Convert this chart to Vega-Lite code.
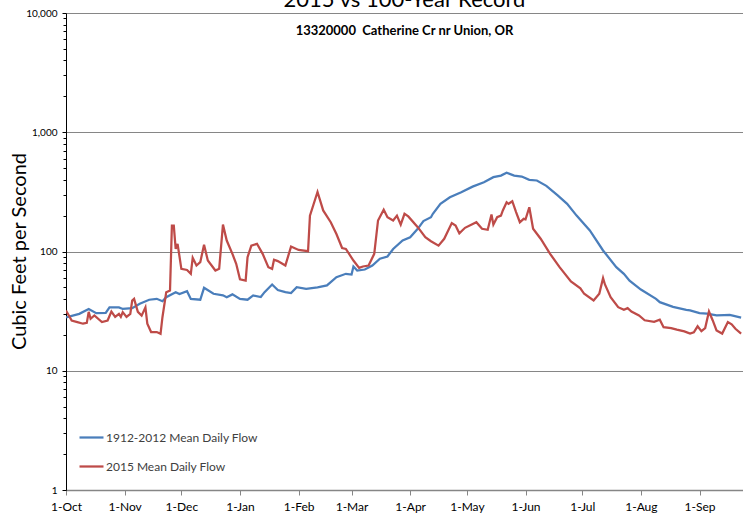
{
  "$schema": "https://vega.github.io/schema/vega-lite/v6.json",
  "width": 677,
  "height": 477,
  "autosize": {"type": "none"},
  "padding": {"left": 66, "top": 13, "right": 0, "bottom": 24},
  "background": "white",
  "title": {
    "text": "2015 vs 100-Year Record",
    "subtitle": "13320000\u00a0 Catherine Cr nr Union, OR",
    "anchor": "middle",
    "frame": "group",
    "font": "Lato",
    "fontSize": 22,
    "fontWeight": "normal",
    "color": "#000000",
    "subtitleFont": "Lato",
    "subtitleFontSize": 13,
    "subtitleFontWeight": "bold",
    "subtitleColor": "#000000",
    "subtitlePadding": 13,
    "offset": -31
  },
  "config": {"view": {"stroke": null}, "font": "Lato"},
  "data": {
    "values": [
      {"d": "2014-10-01", "s": "1912-2012 Mean Daily Flow", "v": 28},
      {"d": "2014-10-08", "s": "1912-2012 Mean Daily Flow", "v": 30},
      {"d": "2014-10-13", "s": "1912-2012 Mean Daily Flow", "v": 33},
      {"d": "2014-10-17", "s": "1912-2012 Mean Daily Flow", "v": 30.4},
      {"d": "2014-10-22", "s": "1912-2012 Mean Daily Flow", "v": 30.5},
      {"d": "2014-10-24", "s": "1912-2012 Mean Daily Flow", "v": 34},
      {"d": "2014-10-29", "s": "1912-2012 Mean Daily Flow", "v": 34},
      {"d": "2014-10-31", "s": "1912-2012 Mean Daily Flow", "v": 33},
      {"d": "2014-11-05", "s": "1912-2012 Mean Daily Flow", "v": 33.5},
      {"d": "2014-11-09", "s": "1912-2012 Mean Daily Flow", "v": 36.5},
      {"d": "2014-11-14", "s": "1912-2012 Mean Daily Flow", "v": 39.4},
      {"d": "2014-11-18", "s": "1912-2012 Mean Daily Flow", "v": 40.1},
      {"d": "2014-11-21", "s": "1912-2012 Mean Daily Flow", "v": 38.3},
      {"d": "2014-11-23", "s": "1912-2012 Mean Daily Flow", "v": 41.4},
      {"d": "2014-11-28", "s": "1912-2012 Mean Daily Flow", "v": 45.6},
      {"d": "2014-11-30", "s": "1912-2012 Mean Daily Flow", "v": 44},
      {"d": "2014-12-04", "s": "1912-2012 Mean Daily Flow", "v": 46.5},
      {"d": "2014-12-06", "s": "1912-2012 Mean Daily Flow", "v": 40},
      {"d": "2014-12-11", "s": "1912-2012 Mean Daily Flow", "v": 39.4},
      {"d": "2014-12-13", "s": "1912-2012 Mean Daily Flow", "v": 49.6},
      {"d": "2014-12-18", "s": "1912-2012 Mean Daily Flow", "v": 44.2},
      {"d": "2014-12-23", "s": "1912-2012 Mean Daily Flow", "v": 42.9},
      {"d": "2014-12-25", "s": "1912-2012 Mean Daily Flow", "v": 41.4},
      {"d": "2014-12-28", "s": "1912-2012 Mean Daily Flow", "v": 43.7},
      {"d": "2015-01-01", "s": "1912-2012 Mean Daily Flow", "v": 40},
      {"d": "2015-01-05", "s": "1912-2012 Mean Daily Flow", "v": 39.4},
      {"d": "2015-01-08", "s": "1912-2012 Mean Daily Flow", "v": 42.8},
      {"d": "2015-01-12", "s": "1912-2012 Mean Daily Flow", "v": 41.5},
      {"d": "2015-01-14", "s": "1912-2012 Mean Daily Flow", "v": 45.6},
      {"d": "2015-01-18", "s": "1912-2012 Mean Daily Flow", "v": 52.9},
      {"d": "2015-01-21", "s": "1912-2012 Mean Daily Flow", "v": 47.5},
      {"d": "2015-01-25", "s": "1912-2012 Mean Daily Flow", "v": 45.6},
      {"d": "2015-01-28", "s": "1912-2012 Mean Daily Flow", "v": 44.8},
      {"d": "2015-01-31", "s": "1912-2012 Mean Daily Flow", "v": 50.2},
      {"d": "2015-02-05", "s": "1912-2012 Mean Daily Flow", "v": 48.7},
      {"d": "2015-02-11", "s": "1912-2012 Mean Daily Flow", "v": 50},
      {"d": "2015-02-16", "s": "1912-2012 Mean Daily Flow", "v": 51.9},
      {"d": "2015-02-21", "s": "1912-2012 Mean Daily Flow", "v": 60.9},
      {"d": "2015-02-26", "s": "1912-2012 Mean Daily Flow", "v": 65},
      {"d": "2015-03-01", "s": "1912-2012 Mean Daily Flow", "v": 64},
      {"d": "2015-03-02", "s": "1912-2012 Mean Daily Flow", "v": 74.9},
      {"d": "2015-03-04", "s": "1912-2012 Mean Daily Flow", "v": 69.3},
      {"d": "2015-03-08", "s": "1912-2012 Mean Daily Flow", "v": 70.6},
      {"d": "2015-03-12", "s": "1912-2012 Mean Daily Flow", "v": 76.2},
      {"d": "2015-03-16", "s": "1912-2012 Mean Daily Flow", "v": 86.9},
      {"d": "2015-03-20", "s": "1912-2012 Mean Daily Flow", "v": 90.8},
      {"d": "2015-03-23", "s": "1912-2012 Mean Daily Flow", "v": 105},
      {"d": "2015-03-28", "s": "1912-2012 Mean Daily Flow", "v": 123.6},
      {"d": "2015-04-01", "s": "1912-2012 Mean Daily Flow", "v": 131.8},
      {"d": "2015-04-05", "s": "1912-2012 Mean Daily Flow", "v": 155},
      {"d": "2015-04-08", "s": "1912-2012 Mean Daily Flow", "v": 180},
      {"d": "2015-04-12", "s": "1912-2012 Mean Daily Flow", "v": 194},
      {"d": "2015-04-13", "s": "1912-2012 Mean Daily Flow", "v": 207},
      {"d": "2015-04-17", "s": "1912-2012 Mean Daily Flow", "v": 251},
      {"d": "2015-04-22", "s": "1912-2012 Mean Daily Flow", "v": 285},
      {"d": "2015-04-28", "s": "1912-2012 Mean Daily Flow", "v": 314},
      {"d": "2015-05-04", "s": "1912-2012 Mean Daily Flow", "v": 350},
      {"d": "2015-05-10", "s": "1912-2012 Mean Daily Flow", "v": 381},
      {"d": "2015-05-15", "s": "1912-2012 Mean Daily Flow", "v": 420},
      {"d": "2015-05-19", "s": "1912-2012 Mean Daily Flow", "v": 433},
      {"d": "2015-05-22", "s": "1912-2012 Mean Daily Flow", "v": 457},
      {"d": "2015-05-26", "s": "1912-2012 Mean Daily Flow", "v": 433},
      {"d": "2015-05-30", "s": "1912-2012 Mean Daily Flow", "v": 425},
      {"d": "2015-06-03", "s": "1912-2012 Mean Daily Flow", "v": 399},
      {"d": "2015-06-07", "s": "1912-2012 Mean Daily Flow", "v": 394},
      {"d": "2015-06-12", "s": "1912-2012 Mean Daily Flow", "v": 355},
      {"d": "2015-06-18", "s": "1912-2012 Mean Daily Flow", "v": 295},
      {"d": "2015-06-23", "s": "1912-2012 Mean Daily Flow", "v": 251},
      {"d": "2015-06-28", "s": "1912-2012 Mean Daily Flow", "v": 200},
      {"d": "2015-07-05", "s": "1912-2012 Mean Daily Flow", "v": 150},
      {"d": "2015-07-12", "s": "1912-2012 Mean Daily Flow", "v": 102},
      {"d": "2015-07-19", "s": "1912-2012 Mean Daily Flow", "v": 73.9},
      {"d": "2015-07-23", "s": "1912-2012 Mean Daily Flow", "v": 65},
      {"d": "2015-07-26", "s": "1912-2012 Mean Daily Flow", "v": 57},
      {"d": "2015-08-01", "s": "1912-2012 Mean Daily Flow", "v": 48},
      {"d": "2015-08-09", "s": "1912-2012 Mean Daily Flow", "v": 40.1},
      {"d": "2015-08-11", "s": "1912-2012 Mean Daily Flow", "v": 37.6},
      {"d": "2015-08-18", "s": "1912-2012 Mean Daily Flow", "v": 34.3},
      {"d": "2015-08-25", "s": "1912-2012 Mean Daily Flow", "v": 32.4},
      {"d": "2015-08-27", "s": "1912-2012 Mean Daily Flow", "v": 32.1},
      {"d": "2015-09-01", "s": "1912-2012 Mean Daily Flow", "v": 30.4},
      {"d": "2015-09-05", "s": "1912-2012 Mean Daily Flow", "v": 30.1},
      {"d": "2015-09-10", "s": "1912-2012 Mean Daily Flow", "v": 29.1},
      {"d": "2015-09-14", "s": "1912-2012 Mean Daily Flow", "v": 29.3},
      {"d": "2015-09-17", "s": "1912-2012 Mean Daily Flow", "v": 29.4},
      {"d": "2015-09-23", "s": "1912-2012 Mean Daily Flow", "v": 27.9},
      {"d": "2014-10-01", "s": "2015 Mean Daily Flow", "v": 32},
      {"d": "2014-10-04", "s": "2015 Mean Daily Flow", "v": 26.4},
      {"d": "2014-10-07", "s": "2015 Mean Daily Flow", "v": 25.6},
      {"d": "2014-10-10", "s": "2015 Mean Daily Flow", "v": 24.8},
      {"d": "2014-10-12", "s": "2015 Mean Daily Flow", "v": 25.2},
      {"d": "2014-10-13", "s": "2015 Mean Daily Flow", "v": 31.2},
      {"d": "2014-10-14", "s": "2015 Mean Daily Flow", "v": 27.3},
      {"d": "2014-10-16", "s": "2015 Mean Daily Flow", "v": 29.1},
      {"d": "2014-10-20", "s": "2015 Mean Daily Flow", "v": 25.6},
      {"d": "2014-10-23", "s": "2015 Mean Daily Flow", "v": 26.4},
      {"d": "2014-10-25", "s": "2015 Mean Daily Flow", "v": 31.4},
      {"d": "2014-10-27", "s": "2015 Mean Daily Flow", "v": 28.3},
      {"d": "2014-10-29", "s": "2015 Mean Daily Flow", "v": 30},
      {"d": "2014-10-30", "s": "2015 Mean Daily Flow", "v": 28.3},
      {"d": "2014-10-31", "s": "2015 Mean Daily Flow", "v": 31},
      {"d": "2014-11-02", "s": "2015 Mean Daily Flow", "v": 28.3},
      {"d": "2014-11-04", "s": "2015 Mean Daily Flow", "v": 30},
      {"d": "2014-11-05", "s": "2015 Mean Daily Flow", "v": 38.8},
      {"d": "2014-11-06", "s": "2015 Mean Daily Flow", "v": 40.1},
      {"d": "2014-11-08", "s": "2015 Mean Daily Flow", "v": 31.2},
      {"d": "2014-11-10", "s": "2015 Mean Daily Flow", "v": 29},
      {"d": "2014-11-12", "s": "2015 Mean Daily Flow", "v": 34},
      {"d": "2014-11-13", "s": "2015 Mean Daily Flow", "v": 24.8},
      {"d": "2014-11-15", "s": "2015 Mean Daily Flow", "v": 21.1},
      {"d": "2014-11-18", "s": "2015 Mean Daily Flow", "v": 21.1},
      {"d": "2014-11-20", "s": "2015 Mean Daily Flow", "v": 20.4},
      {"d": "2014-11-21", "s": "2015 Mean Daily Flow", "v": 28.1},
      {"d": "2014-11-23", "s": "2015 Mean Daily Flow", "v": 45.6},
      {"d": "2014-11-25", "s": "2015 Mean Daily Flow", "v": 47.1},
      {"d": "2014-11-26", "s": "2015 Mean Daily Flow", "v": 165},
      {"d": "2014-11-27", "s": "2015 Mean Daily Flow", "v": 165},
      {"d": "2014-11-28", "s": "2015 Mean Daily Flow", "v": 105},
      {"d": "2014-11-29", "s": "2015 Mean Daily Flow", "v": 116},
      {"d": "2014-12-01", "s": "2015 Mean Daily Flow", "v": 71.6},
      {"d": "2014-12-04", "s": "2015 Mean Daily Flow", "v": 70},
      {"d": "2014-12-06", "s": "2015 Mean Daily Flow", "v": 65},
      {"d": "2014-12-07", "s": "2015 Mean Daily Flow", "v": 88.5},
      {"d": "2014-12-09", "s": "2015 Mean Daily Flow", "v": 76.3},
      {"d": "2014-12-11", "s": "2015 Mean Daily Flow", "v": 81.4},
      {"d": "2014-12-13", "s": "2015 Mean Daily Flow", "v": 113.8},
      {"d": "2014-12-15", "s": "2015 Mean Daily Flow", "v": 84},
      {"d": "2014-12-19", "s": "2015 Mean Daily Flow", "v": 69.3},
      {"d": "2014-12-21", "s": "2015 Mean Daily Flow", "v": 71.6},
      {"d": "2014-12-23", "s": "2015 Mean Daily Flow", "v": 168},
      {"d": "2014-12-25", "s": "2015 Mean Daily Flow", "v": 123.6},
      {"d": "2014-12-28", "s": "2015 Mean Daily Flow", "v": 95.6},
      {"d": "2014-12-30", "s": "2015 Mean Daily Flow", "v": 78.8},
      {"d": "2015-01-01", "s": "2015 Mean Daily Flow", "v": 58.5},
      {"d": "2015-01-04", "s": "2015 Mean Daily Flow", "v": 57},
      {"d": "2015-01-05", "s": "2015 Mean Daily Flow", "v": 89.6},
      {"d": "2015-01-07", "s": "2015 Mean Daily Flow", "v": 112},
      {"d": "2015-01-10", "s": "2015 Mean Daily Flow", "v": 116},
      {"d": "2015-01-13", "s": "2015 Mean Daily Flow", "v": 95.6},
      {"d": "2015-01-16", "s": "2015 Mean Daily Flow", "v": 73.9},
      {"d": "2015-01-18", "s": "2015 Mean Daily Flow", "v": 71.6},
      {"d": "2015-01-19", "s": "2015 Mean Daily Flow", "v": 85.2},
      {"d": "2015-01-21", "s": "2015 Mean Daily Flow", "v": 83},
      {"d": "2015-01-25", "s": "2015 Mean Daily Flow", "v": 76.3},
      {"d": "2015-01-28", "s": "2015 Mean Daily Flow", "v": 110},
      {"d": "2015-02-01", "s": "2015 Mean Daily Flow", "v": 103},
      {"d": "2015-02-06", "s": "2015 Mean Daily Flow", "v": 100.6},
      {"d": "2015-02-07", "s": "2015 Mean Daily Flow", "v": 200},
      {"d": "2015-02-11", "s": "2015 Mean Daily Flow", "v": 316},
      {"d": "2015-02-14", "s": "2015 Mean Daily Flow", "v": 221},
      {"d": "2015-02-18", "s": "2015 Mean Daily Flow", "v": 176},
      {"d": "2015-02-21", "s": "2015 Mean Daily Flow", "v": 140},
      {"d": "2015-02-24", "s": "2015 Mean Daily Flow", "v": 107},
      {"d": "2015-02-26", "s": "2015 Mean Daily Flow", "v": 105},
      {"d": "2015-03-02", "s": "2015 Mean Daily Flow", "v": 84},
      {"d": "2015-03-05", "s": "2015 Mean Daily Flow", "v": 72.9},
      {"d": "2015-03-07", "s": "2015 Mean Daily Flow", "v": 74.9},
      {"d": "2015-03-10", "s": "2015 Mean Daily Flow", "v": 76.3},
      {"d": "2015-03-13", "s": "2015 Mean Daily Flow", "v": 95.6},
      {"d": "2015-03-15", "s": "2015 Mean Daily Flow", "v": 182},
      {"d": "2015-03-18", "s": "2015 Mean Daily Flow", "v": 224},
      {"d": "2015-03-20", "s": "2015 Mean Daily Flow", "v": 194},
      {"d": "2015-03-23", "s": "2015 Mean Daily Flow", "v": 182},
      {"d": "2015-03-25", "s": "2015 Mean Daily Flow", "v": 200},
      {"d": "2015-03-27", "s": "2015 Mean Daily Flow", "v": 168},
      {"d": "2015-03-29", "s": "2015 Mean Daily Flow", "v": 207},
      {"d": "2015-03-31", "s": "2015 Mean Daily Flow", "v": 197},
      {"d": "2015-04-05", "s": "2015 Mean Daily Flow", "v": 160},
      {"d": "2015-04-09", "s": "2015 Mean Daily Flow", "v": 131.8},
      {"d": "2015-04-12", "s": "2015 Mean Daily Flow", "v": 122},
      {"d": "2015-04-16", "s": "2015 Mean Daily Flow", "v": 112},
      {"d": "2015-04-19", "s": "2015 Mean Daily Flow", "v": 127.8},
      {"d": "2015-04-23", "s": "2015 Mean Daily Flow", "v": 173},
      {"d": "2015-04-25", "s": "2015 Mean Daily Flow", "v": 165},
      {"d": "2015-04-27", "s": "2015 Mean Daily Flow", "v": 142},
      {"d": "2015-04-30", "s": "2015 Mean Daily Flow", "v": 158},
      {"d": "2015-05-06", "s": "2015 Mean Daily Flow", "v": 176},
      {"d": "2015-05-09", "s": "2015 Mean Daily Flow", "v": 155},
      {"d": "2015-05-12", "s": "2015 Mean Daily Flow", "v": 152},
      {"d": "2015-05-14", "s": "2015 Mean Daily Flow", "v": 204},
      {"d": "2015-05-15", "s": "2015 Mean Daily Flow", "v": 168},
      {"d": "2015-05-17", "s": "2015 Mean Daily Flow", "v": 194},
      {"d": "2015-05-19", "s": "2015 Mean Daily Flow", "v": 200},
      {"d": "2015-05-20", "s": "2015 Mean Daily Flow", "v": 221},
      {"d": "2015-05-22", "s": "2015 Mean Daily Flow", "v": 259},
      {"d": "2015-05-23", "s": "2015 Mean Daily Flow", "v": 251},
      {"d": "2015-05-25", "s": "2015 Mean Daily Flow", "v": 264},
      {"d": "2015-05-27", "s": "2015 Mean Daily Flow", "v": 214},
      {"d": "2015-05-29", "s": "2015 Mean Daily Flow", "v": 176},
      {"d": "2015-05-31", "s": "2015 Mean Daily Flow", "v": 188},
      {"d": "2015-06-01", "s": "2015 Mean Daily Flow", "v": 186},
      {"d": "2015-06-03", "s": "2015 Mean Daily Flow", "v": 235},
      {"d": "2015-06-05", "s": "2015 Mean Daily Flow", "v": 155},
      {"d": "2015-06-09", "s": "2015 Mean Daily Flow", "v": 128},
      {"d": "2015-06-14", "s": "2015 Mean Daily Flow", "v": 95.6},
      {"d": "2015-06-19", "s": "2015 Mean Daily Flow", "v": 73.9},
      {"d": "2015-06-25", "s": "2015 Mean Daily Flow", "v": 56},
      {"d": "2015-06-30", "s": "2015 Mean Daily Flow", "v": 49.1},
      {"d": "2015-07-02", "s": "2015 Mean Daily Flow", "v": 44.2},
      {"d": "2015-07-07", "s": "2015 Mean Daily Flow", "v": 38.8},
      {"d": "2015-07-10", "s": "2015 Mean Daily Flow", "v": 44.2},
      {"d": "2015-07-12", "s": "2015 Mean Daily Flow", "v": 59.8},
      {"d": "2015-07-13", "s": "2015 Mean Daily Flow", "v": 52.9},
      {"d": "2015-07-16", "s": "2015 Mean Daily Flow", "v": 41.4},
      {"d": "2015-07-20", "s": "2015 Mean Daily Flow", "v": 34.1},
      {"d": "2015-07-23", "s": "2015 Mean Daily Flow", "v": 32.4},
      {"d": "2015-07-25", "s": "2015 Mean Daily Flow", "v": 33.5},
      {"d": "2015-07-27", "s": "2015 Mean Daily Flow", "v": 31.4},
      {"d": "2015-07-31", "s": "2015 Mean Daily Flow", "v": 29.1},
      {"d": "2015-08-03", "s": "2015 Mean Daily Flow", "v": 26.5},
      {"d": "2015-08-08", "s": "2015 Mean Daily Flow", "v": 25.7},
      {"d": "2015-08-11", "s": "2015 Mean Daily Flow", "v": 26.8},
      {"d": "2015-08-13", "s": "2015 Mean Daily Flow", "v": 23.2},
      {"d": "2015-08-17", "s": "2015 Mean Daily Flow", "v": 22.8},
      {"d": "2015-08-20", "s": "2015 Mean Daily Flow", "v": 22.1},
      {"d": "2015-08-24", "s": "2015 Mean Daily Flow", "v": 21.4},
      {"d": "2015-08-27", "s": "2015 Mean Daily Flow", "v": 20.5},
      {"d": "2015-08-29", "s": "2015 Mean Daily Flow", "v": 21},
      {"d": "2015-08-31", "s": "2015 Mean Daily Flow", "v": 23.6},
      {"d": "2015-09-02", "s": "2015 Mean Daily Flow", "v": 21.5},
      {"d": "2015-09-04", "s": "2015 Mean Daily Flow", "v": 22.8},
      {"d": "2015-09-06", "s": "2015 Mean Daily Flow", "v": 31.4},
      {"d": "2015-09-08", "s": "2015 Mean Daily Flow", "v": 26.4},
      {"d": "2015-09-10", "s": "2015 Mean Daily Flow", "v": 21.8},
      {"d": "2015-09-13", "s": "2015 Mean Daily Flow", "v": 20.5},
      {"d": "2015-09-16", "s": "2015 Mean Daily Flow", "v": 25.6},
      {"d": "2015-09-18", "s": "2015 Mean Daily Flow", "v": 24.5},
      {"d": "2015-09-20", "s": "2015 Mean Daily Flow", "v": 22.5},
      {"d": "2015-09-23", "s": "2015 Mean Daily Flow", "v": 20.5}
    ]
  },
  "layer": [
    {
      "mark": {"type": "line", "strokeWidth": 2.25, "clip": true},
      "encoding": {
        "x": {
          "field": "d",
          "type": "temporal",
          "scale": {
            "type": "utc",
            "domain": [
              {"year": 2014, "month": 10, "date": 1, "utc": true},
              {"year": 2015, "month": 9, "date": 24, "utc": true}
            ]
          },
          "axis": {
            "title": null,
            "format": "%-d-%b",
            "values": [
              {"year": 2014, "month": 10, "date": 1, "utc": true},
              {"year": 2014, "month": 11, "date": 1, "utc": true},
              {"year": 2014, "month": 12, "date": 1, "utc": true},
              {"year": 2015, "month": 1, "date": 1, "utc": true},
              {"year": 2015, "month": 2, "date": 1, "utc": true},
              {"year": 2015, "month": 3, "date": 1, "utc": true},
              {"year": 2015, "month": 4, "date": 1, "utc": true},
              {"year": 2015, "month": 5, "date": 1, "utc": true},
              {"year": 2015, "month": 6, "date": 1, "utc": true},
              {"year": 2015, "month": 7, "date": 1, "utc": true},
              {"year": 2015, "month": 8, "date": 1, "utc": true},
              {"year": 2015, "month": 9, "date": 1, "utc": true}
            ],
            "grid": false,
            "domainColor": "#868686",
            "domainWidth": 1.5,
            "tickColor": "#868686",
            "tickSize": 5,
            "labelFont": "Lato",
            "labelFontSize": 12,
            "labelColor": "#000000",
            "labelPadding": 6,
            "labelOverlap": false,
            "labelFlush": false
          }
        },
        "y": {
          "field": "v",
          "type": "quantitative",
          "scale": {"type": "log", "domain": [1, 10000]},
          "axis": {
            "title": "Cubic Feet per Second",
            "titleFont": "Lato",
            "titleFontSize": 20,
            "titleFontWeight": "normal",
            "titleColor": "#000000",
            "titleX": -37,
            "titleY": 238,
            "values": [1, 10, 100, 1000, 10000],
            "format": ",",
            "labelFont": "Lato",
            "labelFontSize": 10,
            "labelColor": "#000000",
            "labelPadding": 5,
            "tickSize": 4,
            "tickColor": "#000000",
            "domainColor": "#000000",
            "grid": true,
            "gridColor": "#868686",
            "gridWidth": 1
          }
        },
        "color": {
          "field": "s",
          "type": "nominal",
          "scale": {
            "domain": ["1912-2012 Mean Daily Flow", "2015 Mean Daily Flow"],
            "range": ["#4A7EBB", "#BE4B48"]
          },
          "legend": {
            "title": null,
            "orient": "none",
            "legendX": 12,
            "legendY": 411,
            "symbolType": "stroke",
            "symbolSize": 576,
            "symbolStrokeWidth": 2.25,
            "labelFont": "Lato",
            "labelFontSize": 12,
            "labelColor": "#404040",
            "labelOffset": 1,
            "rowPadding": 9,
            "padding": 0
          }
        }
      }
    },
    {
      "mark": {"type": "point", "opacity": 0},
      "encoding": {
        "x": {"field": "d", "type": "temporal"},
        "y": {
          "field": "v",
          "type": "quantitative",
          "scale": {"type": "log", "domain": [1, 10000]},
          "axis": {
            "orient": "left",
            "title": null,
            "labels": false,
            "grid": false,
            "domain": false,
            "tickSize": 3,
            "tickColor": "#000000",
            "values": [2, 3, 4, 5, 6, 7, 8, 9, 20, 30, 40, 50, 60, 70, 80, 90, 200, 300, 400, 500, 600, 700, 800, 900, 2000, 3000, 4000, 5000, 6000, 7000, 8000, 9000]
          }
        }
      }
    }
  ],
  "resolve": {"axis": {"y": "independent"}}
}
